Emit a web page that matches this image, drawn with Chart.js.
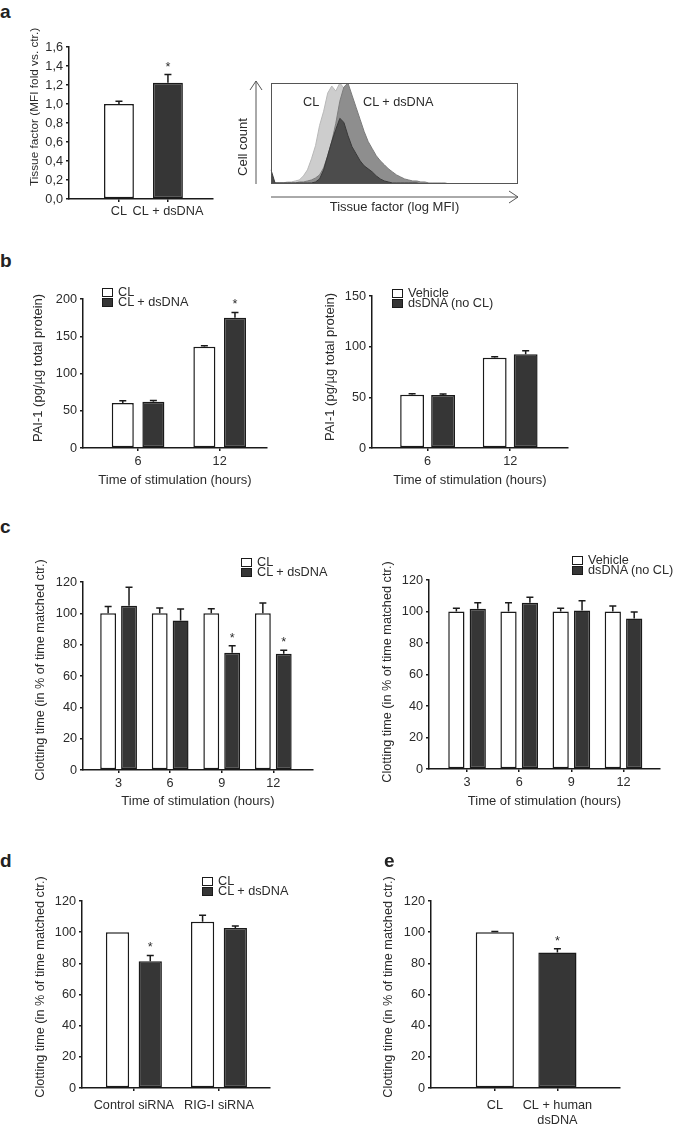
<!DOCTYPE html>
<html>
<head>
<meta charset="utf-8">
<script src="https://cdn.jsdelivr.net/npm/chart.js@4"></script>
<style>
  body { margin: 0; background: #fff; }
  #fig { position: relative; width: 675px; height: 1127px; overflow: hidden;
         font-family: "Liberation Sans", Arial, sans-serif; color: #2b2b2b; }
  #fig canvas { position: absolute; }
  .letter { position: absolute; font-weight: bold; font-size: 19px; line-height: 19px; color: #222; }
  .lgbox { position: absolute; width: 11px; height: 9px; box-sizing: border-box; border: 1.5px solid #1a1a1a; }
  .lbl { position: absolute; font-size: 12.7px; line-height: 15px; white-space: nowrap; }
</style>
</head>
<body>
<div id="fig"></div>
<script>
// ---------------- Data ----------------
// a: tissue factor MFI
const tfCats = ['CL', 'CL + dsDNA'];
const tfValues = [1.00, 1.225];
const tfErrors = [0.03, 0.085];
const tfStars = [false, true];

// a: flow histogram (cell count per log-MFI bin, % of max)
const histCL = [6, 1, 1, 1, 2, 2, 3, 4, 8, 14,
                25, 38, 58, 72, 90, 97, 92, 100, 95, 88,
                72, 55, 42, 30, 22, 15, 11, 8, 6, 4,
                3, 2, 2, 1, 1, 1, 1, 1, 1, 0,
                0, 0, 0, 0, 0, 0, 0, 0, 0, 0,
                0, 0, 0, 0, 0, 0, 0, 0, 0, 0,
                0, 0];
const histDsDNA = [1, 1, 1, 1, 1, 1, 1, 2, 2, 3,
                   4, 6, 9, 16, 28, 42, 60, 82, 96, 100,
                   88, 76, 64, 52, 42, 35, 28, 23, 19, 15,
                   12, 9, 7, 5, 4, 3, 3, 2, 2, 1,
                   1, 1, 1, 1, 0, 0, 0, 0, 0, 0,
                   0, 0, 0, 0, 0, 0, 0, 0, 0, 0,
                   0, 0];
const histIsotype = [14, 1, 1, 1, 1, 1, 1, 1, 1, 1,
                     1, 2, 5, 14, 28, 42, 54, 65, 61, 48,
                     37, 30, 23, 18, 15, 12, 8, 5, 3, 2,
                     1, 1, 1, 1, 1, 1, 1, 0, 0, 0,
                     0, 0, 0, 0, 0, 0, 0, 0, 0, 0,
                     0, 0, 0, 0, 0, 0, 0, 0, 0, 0,
                     0, 0];
const histBins = histCL.map((_, i) => i);

// b: PAI-1
const timeB = ['6', '12'];
const paiCL = [60.4, 136];
const paiCLErr = [3, 1.4];
const paiDs = [62, 175];
const paiDsErr = [1.8, 7];
const paiDsStars = [false, true];
const paiVeh = [52.6, 89.1];
const paiVehErr = [1, 1];
const paiDsNoCL = [52.3, 92.4];
const paiDsNoCLErr = [1, 3.6];

// c: clotting time course
const timeC = ['3', '6', '9', '12'];
const clotCL = [100, 100, 100, 100];
const clotCLErr = [4.4, 3.4, 3, 6.6];
const clotDs = [104.9, 95.5, 74.8, 74.2];
const clotDsErr = [11.7, 7.2, 4.5, 2.3];
const clotDsStars = [false, false, true, true];
const clotVeh = [100, 100, 100, 100];
const clotVehErr = [2, 5.6, 2, 3.5];
const clotDsNoCL = [101.8, 105.6, 100.6, 95.5];
const clotDsNoCLErr = [3.8, 3.4, 6.3, 4.2];

// d: siRNA
const sirnaCats = ['Control siRNA', 'RIG-I siRNA'];
const sirnaCL = [100, 106.7];
const sirnaCLErr = [0, 4.1];
const sirnaDs = [81.4, 102.6];
const sirnaDsErr = [3.7, 1.3];
const sirnaDsStars = [true, false];

// e: human dsDNA
const humanCats = ['CL', ['CL + human', 'dsDNA']];
const humanValues = [100, 87];
const humanErrors = [0.5, 2.4];
const humanStars = [false, true];


// ---------------- Styles ----------------
const INK = '#1a1a1a';
const TEXT = '#2b2b2b';
const WHITE = '#ffffff';
const DARK = '#363636';
const FONT = { family: '"Liberation Sans", Arial, sans-serif', size: 12.7 };
const TITLE_FONT = { family: FONT.family, size: 13 };
const PAD_TOP = 40;

Chart.defaults.font.family = FONT.family;
Chart.defaults.font.size = FONT.size;
Chart.defaults.color = TEXT;
Chart.defaults.animation = false;

const fig = document.getElementById('fig');


// ---------------- Plugins ----------------
const errorBars = {
    id: 'errorBars',
    afterDatasetsDraw(chart) {
        const ctx = chart.ctx;
        const y = chart.scales.y;
        ctx.save();
        ctx.strokeStyle = INK;
        ctx.lineWidth = 1.5;
        ctx.fillStyle = TEXT;
        ctx.font = '12.7px ' + FONT.family;
        ctx.textAlign = 'center';
        chart.data.datasets.forEach((ds, i) => {
            chart.getDatasetMeta(i).data.forEach((bar, j) => {
                const err = ds.errors ? ds.errors[j] : 0;
                const yTop = y.getPixelForValue(ds.data[j].y + err);
                if (err > 0) {
                    ctx.beginPath();
                    ctx.moveTo(bar.x, bar.y);
                    ctx.lineTo(bar.x, yTop);
                    ctx.moveTo(bar.x - 3.5, yTop);
                    ctx.lineTo(bar.x + 3.5, yTop);
                    ctx.stroke();
                }
                if (ds.stars && ds.stars[j]) ctx.fillText('*', bar.x, yTop - 4);
            });
        });
        ctx.restore();
    }
};

// vertical axis title drawn at a fixed centre, without squeezing to the axis height
const yTitle = {
    id: 'yTitle',
    afterDraw(chart, args, opts) {
        if (!opts.text) return;
        const ctx = chart.ctx;
        ctx.save();
        ctx.translate(opts.x, opts.y);
        ctx.rotate(-Math.PI / 2);
        ctx.font = opts.size + 'px ' + FONT.family;
        ctx.fillStyle = TEXT;
        ctx.textAlign = 'center';
        ctx.textBaseline = 'middle';
        ctx.fillText(opts.text, 0, 0);
        ctx.restore();
    }
};

const frameArrows = {
    id: 'frameArrows',
    afterDraw(chart) {
        const { ctx, chartArea: a } = chart;
        ctx.save();
        ctx.strokeStyle = '#555';
        ctx.lineWidth = 1;
        ctx.strokeRect(a.left + 0.5, a.top + 0.5, a.width - 1, a.height - 1);
        const ax = a.left - 15, ay = a.bottom + 13;
        ctx.beginPath();
        ctx.moveTo(ax, a.bottom);
        ctx.lineTo(ax, a.top - 2);
        ctx.moveTo(ax - 6, a.top + 7);
        ctx.lineTo(ax, a.top - 2);
        ctx.lineTo(ax + 6, a.top + 7);
        ctx.moveTo(a.left, ay);
        ctx.lineTo(a.right, ay);
        ctx.moveTo(a.right - 9, ay - 6);
        ctx.lineTo(a.right, ay);
        ctx.lineTo(a.right - 9, ay + 6);
        ctx.stroke();
        ctx.restore();
    }
};


// ---------------- Helpers ----------------
function addText(text, x, cy) {
    const d = document.createElement('div');
    d.className = 'lbl';
    d.textContent = text;
    d.style.left = x + 'px';
    d.style.top = (cy - 7.5) + 'px';
    fig.appendChild(d);
}

function addLetter(ch, x, top) {
    const d = document.createElement('div');
    d.className = 'letter';
    d.textContent = ch;
    d.style.left = x + 'px';
    d.style.top = top + 'px';
    fig.appendChild(d);
}

function addLegend(x, y, names, fills) {
    names.forEach((name, i) => {
        const cy = y + i * 10.8;
        const box = document.createElement('div');
        box.className = 'lgbox';
        box.style.left = x + 'px';
        box.style.top = (cy - 4.5) + 'px';
        box.style.background = fills[i];
        fig.appendChild(box);
        addText(name, x + 16, cy);
    });
}

function barPanel(o) {
    const canvas = document.createElement('canvas');
    const top = o.plotT - PAD_TOP;
    canvas.width = o.plotR + 2 - o.left;
    canvas.height = o.bottom - top;
    canvas.style.left = o.left + 'px';
    canvas.style.top = top + 'px';
    fig.appendChild(canvas);

    new Chart(canvas, {
        type: 'bar',
        data: {
            datasets: o.series.map(s => ({
                label: s.label,
                data: s.values.map((v, i) => ({ x: i, y: v })),
                errors: s.errors,
                stars: s.stars,
                backgroundColor: s.fill,
                borderColor: INK,
                borderWidth: 1.5,
                borderSkipped: false,
                categoryPercentage: o.catPct,
                barPercentage: o.barPct
            }))
        },
        options: {
            responsive: false,
            devicePixelRatio: 1,
            layout: { padding: { top: PAD_TOP, right: 2, left: 0, bottom: 0 } },
            plugins: {
                legend: { display: false },
                tooltip: { enabled: false },
                yTitle: { text: o.yTitle, x: o.titleX - o.left, y: o.titleY - top, size: o.titleSize || 13 }
            },
            scales: {
                x: {
                    type: 'linear',
                    min: o.xMin,
                    max: o.xMax,
                    offset: false,
                    afterBuildTicks: s => { s.ticks = o.cats.map((_, i) => ({ value: i })); },
                    ticks: {
                        callback: v => o.cats[Math.round(v)],
                        padding: o.tickPad,
                        maxRotation: 0,
                        autoSkip: false
                    },
                    grid: { offset: false, drawOnChartArea: false, tickLength: 3, color: INK, lineWidth: 1.5 },
                    border: { color: INK, width: 1.5 },
                    title: { display: !!o.xTitle, text: o.xTitle || '', padding: 0, font: TITLE_FONT },
                    afterFit: s => { s.height = o.bottom - o.plotB; }
                },
                y: {
                    min: 0,
                    max: o.yMax,
                    ticks: {
                        stepSize: o.yStep,
                        padding: 3,
                        callback: o.fmt || (v => v)
                    },
                    grid: { drawOnChartArea: false, tickLength: 3, color: INK, lineWidth: 1.5 },
                    border: { color: INK, width: 1.5 },
                    title: { display: false },
                    afterFit: s => { s.width = o.plotL - o.left; }
                }
            }
        },
        plugins: [errorBars, yTitle]
    });
}


// ---------------- a: tissue factor bars ----------------
barPanel({
    left: 27, plotL: 69, plotR: 213, plotT: 47, plotB: 199, bottom: 224,
    xMin: -1.02, xMax: 1.92, catPct: 0.61, barPct: 1, tickPad: 2,
    cats: tfCats, yMax: 1.6, yStep: 0.2,
    fmt: v => v.toFixed(1).replace('.', ','),
    yTitle: 'Tissue factor (MFI fold vs. ctr.)', titleX: 35, titleY: 107, titleSize: 11.8,
    series: [{ label: 'Tissue factor', values: tfValues, errors: tfErrors, stars: tfStars, fill: [WHITE, DARK] }]
});


// ---------------- a: histogram ----------------
(function () {
    const canvas = document.createElement('canvas');
    canvas.width = 291;
    canvas.height = 137;
    canvas.style.left = '235px';
    canvas.style.top = '78px';
    fig.appendChild(canvas);

    new Chart(canvas, {
        type: 'line',
        data: {
            labels: histBins,
            datasets: [
                { label: 'Isotype', data: histIsotype, backgroundColor: '#4c4c4c', borderColor: '#3a3a3a', fill: 'origin' },
                { label: 'CL + dsDNA', data: histDsDNA, backgroundColor: '#8e8e8e', borderColor: '#7c7c7c', fill: 'origin' },
                { label: 'CL', data: histCL, backgroundColor: '#cdcdcd', borderColor: '#b8b8b8', fill: 'origin' }
            ]
        },
        options: {
            responsive: false,
            devicePixelRatio: 1,
            layout: { padding: { top: 5, right: 8, left: 0, bottom: 0 } },
            elements: { point: { radius: 0 }, line: { borderWidth: 1, tension: 0 } },
            plugins: {
                legend: { display: false },
                tooltip: { enabled: false },
                yTitle: { text: 'Cell count', x: 243 - 235, y: 147 - 78, size: 13 }
            },
            scales: {
                x: {
                    offset: false,
                    ticks: { display: false },
                    grid: { display: false },
                    border: { display: false },
                    title: { display: true, text: 'Tissue factor (log MFI)', padding: 0, font: TITLE_FONT },
                    afterFit: s => { s.height = 31; }
                },
                y: {
                    min: 0,
                    max: 100,
                    ticks: { display: false },
                    grid: { display: false },
                    border: { display: false },
                    title: { display: false },
                    afterFit: s => { s.width = 36; }
                }
            }
        },
        plugins: [frameArrows, yTitle]
    });

    addText('CL', 303, 102);
    addText('CL + dsDNA', 363, 102);
})();


// ---------------- b: PAI-1 ----------------
barPanel({
    left: 31, plotL: 83, plotR: 267, plotT: 299, plotB: 448, bottom: 488,
    xMin: -0.675, xMax: 1.58, catPct: 0.75, barPct: 0.72, tickPad: 3,
    cats: timeB, yMax: 200, yStep: 50,
    yTitle: 'PAI-1 (pg/µg total protein)', titleX: 38, titleY: 368,
    xTitle: 'Time of stimulation (hours)',
    series: [
        { label: 'CL', values: paiCL, errors: paiCLErr, fill: WHITE },
        { label: 'CL + dsDNA', values: paiDs, errors: paiDsErr, stars: paiDsStars, fill: DARK }
    ]
});
addLegend(102, 292, ['CL', 'CL + dsDNA'], [WHITE, DARK]);

barPanel({
    left: 322, plotL: 372, plotR: 568, plotT: 296, plotB: 448, bottom: 488,
    xMin: -0.673, xMax: 1.70, catPct: 0.75, barPct: 0.77, tickPad: 3,
    cats: timeB, yMax: 150, yStep: 50,
    yTitle: 'PAI-1 (pg/µg total protein)', titleX: 330, titleY: 367,
    xTitle: 'Time of stimulation (hours)',
    series: [
        { label: 'Vehicle', values: paiVeh, errors: paiVehErr, fill: WHITE },
        { label: 'dsDNA (no CL)', values: paiDsNoCL, errors: paiDsNoCLErr, fill: DARK }
    ]
});
addLegend(392, 293, ['Vehicle', 'dsDNA (no CL)'], [WHITE, DARK]);


// ---------------- c: clotting time ----------------
barPanel({
    left: 32, plotL: 83, plotR: 313, plotT: 582, plotB: 770, bottom: 809,
    xMin: -0.69, xMax: 3.77, catPct: 0.81, barPct: 0.76, tickPad: 3,
    cats: timeC, yMax: 120, yStep: 20,
    yTitle: 'Clotting time (in % of time matched ctr.)', titleX: 40, titleY: 670, titleSize: 12.7,
    xTitle: 'Time of stimulation (hours)',
    series: [
        { label: 'CL', values: clotCL, errors: clotCLErr, fill: WHITE },
        { label: 'CL + dsDNA', values: clotDs, errors: clotDsErr, stars: clotDsStars, fill: DARK }
    ]
});
addLegend(241, 562, ['CL', 'CL + dsDNA'], [WHITE, DARK]);

barPanel({
    left: 379, plotL: 429, plotR: 660, plotT: 580, plotB: 769, bottom: 809,
    xMin: -0.73, xMax: 3.70, catPct: 0.82, barPct: 0.76, tickPad: 3,
    cats: timeC, yMax: 120, yStep: 20,
    yTitle: 'Clotting time (in % of time matched ctr.)', titleX: 387, titleY: 672, titleSize: 12.7,
    xTitle: 'Time of stimulation (hours)',
    series: [
        { label: 'Vehicle', values: clotVeh, errors: clotVehErr, fill: WHITE },
        { label: 'dsDNA (no CL)', values: clotDsNoCL, errors: clotDsNoCLErr, fill: DARK }
    ]
});
addLegend(572, 560, ['Vehicle', 'dsDNA (no CL)'], [WHITE, DARK]);


// ---------------- d: siRNA ----------------
barPanel({
    left: 32, plotL: 82, plotR: 270, plotT: 901, plotB: 1088, bottom: 1127,
    xMin: -0.61, xMax: 1.60, catPct: 0.77, barPct: 0.71, tickPad: 7,
    cats: sirnaCats, yMax: 120, yStep: 20,
    yTitle: 'Clotting time (in % of time matched ctr.)', titleX: 40, titleY: 987, titleSize: 12.7,
    series: [
        { label: 'CL', values: sirnaCL, errors: sirnaCLErr, fill: WHITE },
        { label: 'CL + dsDNA', values: sirnaDs, errors: sirnaDsErr, stars: sirnaDsStars, fill: DARK }
    ]
});
addLegend(202, 881, ['CL', 'CL + dsDNA'], [WHITE, DARK]);


// ---------------- e: human dsDNA ----------------
barPanel({
    left: 381, plotL: 431, plotR: 620, plotT: 901, plotB: 1088, bottom: 1127,
    xMin: -1.02, xMax: 2.0, catPct: 0.61, barPct: 1, tickPad: 7,
    cats: humanCats, yMax: 120, yStep: 20,
    yTitle: 'Clotting time (in % of time matched ctr.)', titleX: 388, titleY: 987, titleSize: 12.7,
    series: [{ label: 'Clotting time', values: humanValues, errors: humanErrors, stars: humanStars, fill: [WHITE, DARK] }]
});


// ---------------- Panel letters ----------------
addLetter('a', 0, 2);
addLetter('b', 0, 251);
addLetter('c', 0, 517);
addLetter('d', 0, 851);
addLetter('e', 384, 851);
</script>
</body>
</html>
